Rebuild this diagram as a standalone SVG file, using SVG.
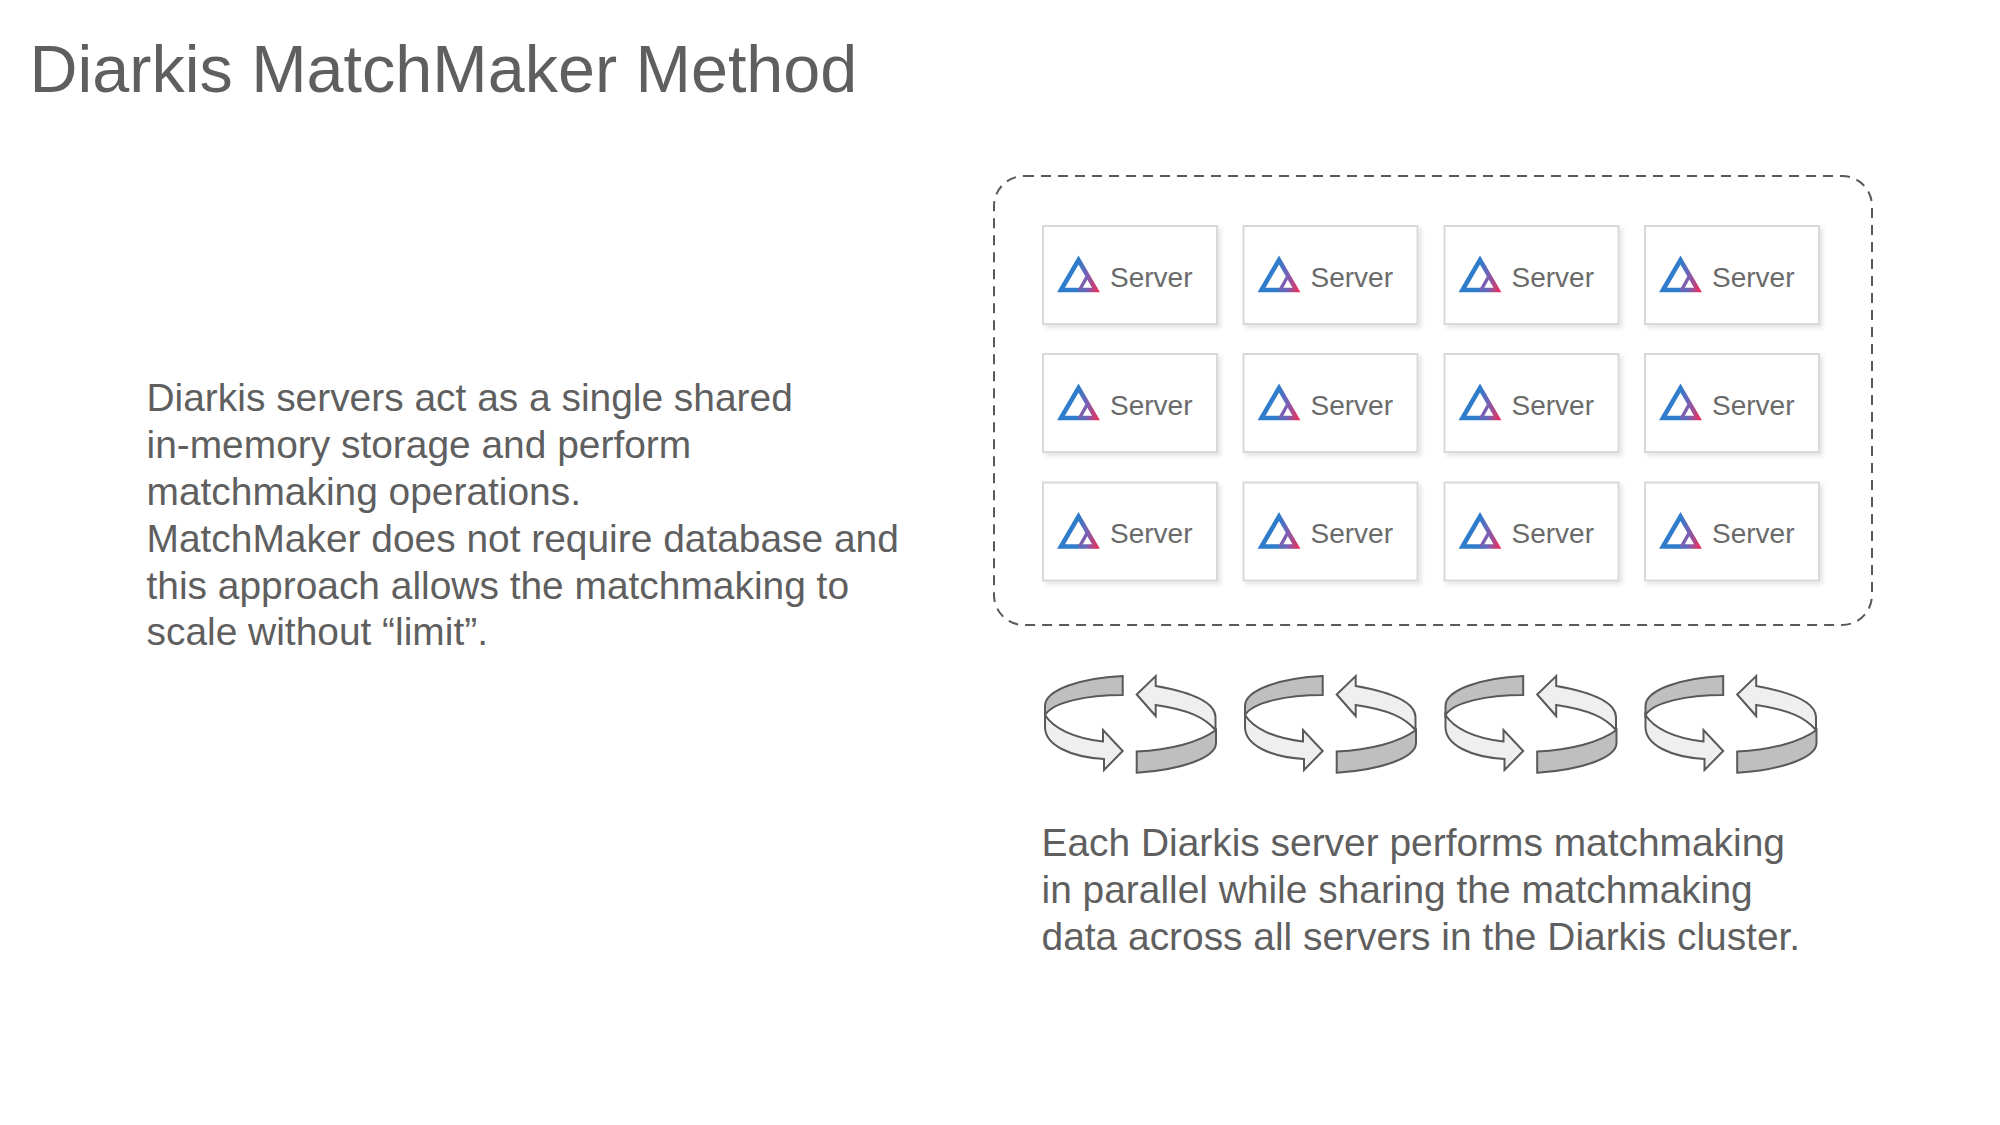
<svg xmlns="http://www.w3.org/2000/svg" width="2000" height="1125" viewBox="0 0 2000 1125">
<style>
text{font-family:"Liberation Sans",Arial,sans-serif;fill:#5f5f5f}
.title{font-size:66.5px}
.body{font-size:38.9px}
.lbl{font-size:28px;fill:#6a6a6a}
.box{fill:#fff;stroke:#d9d9d9;stroke-width:2;filter:url(#sh)}
.dk{fill:#bfbfbf;stroke:#595959;stroke-width:2;stroke-linejoin:miter}
.lt{fill:#efefef;stroke:#595959;stroke-width:2;stroke-linejoin:miter}
</style>
<defs>
<filter id="sh" x="-10%" y="-10%" width="125%" height="125%"><feDropShadow dx="3" dy="3" stdDeviation="2" flood-color="#000" flood-opacity="0.1"/></filter>
<linearGradient id="g" gradientUnits="userSpaceOnUse" x1="15" y1="0" x2="57" y2="0"><stop offset="0.5" stop-color="#2f7ccb"/><stop offset="0.7" stop-color="#7b5fb0"/><stop offset="0.95" stop-color="#ea2f5c"/></linearGradient>
<g id="server">
<rect class="box" x="0" y="0" width="174" height="98"/>
<path d="M18,64 L35.5,34 L53,64 Z" fill="none" stroke="url(#g)" stroke-width="4.5" stroke-linejoin="miter"/>
<path d="M36,65 L45,49" fill="none" stroke="#7b5fb0" stroke-width="3.5"/>
<text class="lbl" x="67" y="60.5">Server</text>
</g>
<g id="rot">
<path class="dk" d="M92.7,16 C50,18 15,30 15,46 L15,55 C23,42 57,35 92.7,35 Z"/>
<path class="lt" d="M15,55 C23,68 43,78 73,81.5 L73,70 L92.7,91 L74,110 L74,99 C40,97 15,85 15,67 Z"/>
<path class="lt" d="M106.7,34.5 L125.7,16 L125.7,26 C160,32 185,42 185.5,57 L185.5,70 C175,58 160,50 125.7,45 L125.7,56 Z"/>
<path class="dk" d="M106.7,91.5 L106.7,112.7 C150,110 186,98 186,83 L186,70 C170,82 140,90 106.7,91.5 Z"/>
</g>
</defs>
<rect width="2000" height="1125" fill="#fff"/>
<text id="title" class="title" x="29.5" y="92">Diarkis MatchMaker Method</text>
<g id="left-text">
<text class="body" x="146.5" y="411">Diarkis servers act as a single shared</text>
<text class="body" x="146.5" y="458">in-memory storage and perform</text>
<text class="body" x="146.5" y="505">matchmaking operations.</text>
<text class="body" x="146.5" y="552">MatchMaker does not require database and</text>
<text class="body" x="146.5" y="598.5">this approach allows the matchmaking to</text>
<text class="body" x="146.5" y="645">scale without “limit”.</text>
</g>
<rect id="cluster" x="994" y="176" width="878" height="449" rx="30" fill="none" stroke="#595959" stroke-width="2" stroke-dasharray="10 7"/>
<g id="server-1-1"><use href="#server" x="1043" y="226"/></g>
<g id="server-1-2"><use href="#server" x="1243.5" y="226"/></g>
<g id="server-1-3"><use href="#server" x="1444.5" y="226"/></g>
<g id="server-1-4"><use href="#server" x="1645" y="226"/></g>
<g id="server-2-1"><use href="#server" x="1043" y="354"/></g>
<g id="server-2-2"><use href="#server" x="1243.5" y="354"/></g>
<g id="server-2-3"><use href="#server" x="1444.5" y="354"/></g>
<g id="server-2-4"><use href="#server" x="1645" y="354"/></g>
<g id="server-3-1"><use href="#server" x="1043" y="482.5"/></g>
<g id="server-3-2"><use href="#server" x="1243.5" y="482.5"/></g>
<g id="server-3-3"><use href="#server" x="1444.5" y="482.5"/></g>
<g id="server-3-4"><use href="#server" x="1645" y="482.5"/></g>
<g id="connectors">
<use href="#rot" x="1030" y="660"/>
<use href="#rot" x="1230" y="660"/>
<use href="#rot" x="1430.5" y="660"/>
<use href="#rot" x="1630.5" y="660"/>
</g>
<g id="bottom-text">
<text class="body" x="1041.5" y="856">Each Diarkis server performs matchmaking</text>
<text class="body" x="1041.5" y="903">in parallel while sharing the matchmaking</text>
<text class="body" x="1041.5" y="950">data across all servers in the Diarkis cluster.</text>
</g>
</svg>
